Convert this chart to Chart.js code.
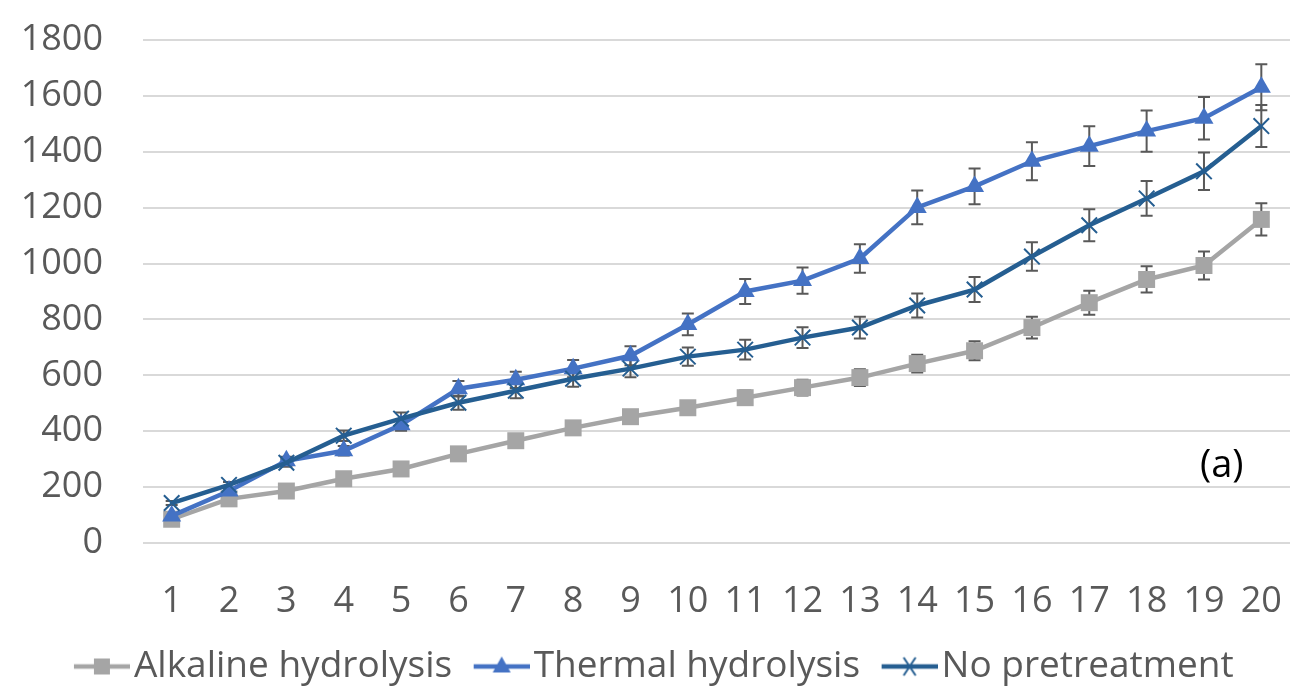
<!DOCTYPE html>
<html>
<head>
<meta charset="utf-8">
<script src="https://cdn.jsdelivr.net/npm/chart.js@4.4.1/dist/chart.umd.min.js"></script>
<style>
  html, body { margin: 0; padding: 0; background: #fff; }
  #wrap { width: 1291px; height: 691px; }
</style>
</head>
<body>
<div id="wrap"><canvas id="chart" width="1291" height="691"></canvas></div>
<script>
// values
const days = ["1","2","3","4","5","6","7","8","9","10","11","12","13","14","15","16","17","18","19","20"];

const alkaline = [85, 158, 186, 230, 265, 319, 366, 412, 452, 484, 520, 556, 592, 642, 688, 771, 860, 943, 993, 1158];
const alkalineErr = [4, 8, 9, 11, 13, 16, 18, 21, 23, 24, 26, 28, 30, 32, 34, 39, 43, 47, 50, 58];

const thermal = [97, 186, 294, 330, 423, 552, 584, 624, 670, 782, 900, 939, 1018, 1201, 1276, 1366, 1420, 1474, 1520, 1631];
const thermalErr = [5, 9, 15, 17, 21, 28, 29, 31, 34, 39, 45, 47, 51, 60, 64, 68, 71, 74, 76, 82];

const noPre = [143, 208, 287, 384, 445, 502, 545, 588, 624, 667, 692, 735, 771, 850, 907, 1025, 1137, 1233, 1330, 1492];
const noPreErr = [7, 10, 14, 19, 22, 25, 27, 29, 31, 33, 35, 37, 39, 43, 45, 51, 57, 62, 67, 75];

const yTicks = [0, 200, 400, 600, 800, 1000, 1200, 1400, 1600, 1800];

const errors = [alkalineErr, thermalErr, noPreErr];

const FONT = "'Open Sans', 'Noto Sans', sans-serif";
const GREY = "#A5A5A5";
const BLUE = "#4472C4";
const DARK = "#255E91";

// legend icon: line with marker, sitting at the right end of a wider canvas
function legendIcon(color, style) {
  const c = document.createElement("canvas");
  c.width = 88; c.height = 24;
  const g = c.getContext("2d");
  const x0 = 32, cx = x0 + 28;
  g.strokeStyle = color; g.fillStyle = color;
  g.lineWidth = 4.5;
  g.beginPath(); g.moveTo(x0, 12); g.lineTo(88, 12); g.stroke();
  if (style === "rect") {
    g.fillRect(cx - 8, 12 - 8, 16, 16);
  } else if (style === "triangle") {
    g.beginPath(); g.moveTo(cx, 2); g.lineTo(cx + 9, 18); g.lineTo(cx - 9, 18); g.closePath(); g.fill();
  } else {
    g.lineWidth = 2;
    g.beginPath();
    g.moveTo(cx - 6, 3); g.lineTo(cx + 6, 21);
    g.moveTo(cx + 6, 3); g.lineTo(cx - 6, 21);
    g.stroke();
  }
  return c;
}

const errorBars = {
  id: "errorBars",
  beforeDatasetsDraw(chart) {
    const ctx = chart.ctx;
    const y = chart.scales.y;
    ctx.save();
    ctx.strokeStyle = "#595959";
    ctx.lineWidth = 2;
    chart.data.datasets.forEach((ds, di) => {
      const meta = chart.getDatasetMeta(di);
      ds.data.forEach((v, i) => {
        const e = errors[di][i];
        const px = meta.data[i].x;
        const top = y.getPixelForValue(v + e);
        const bot = y.getPixelForValue(v - e);
        ctx.beginPath();
        ctx.moveTo(px, top); ctx.lineTo(px, bot);
        ctx.moveTo(px - 6, top); ctx.lineTo(px + 6, top);
        ctx.moveTo(px - 6, bot); ctx.lineTo(px + 6, bot);
        ctx.stroke();
      });
    });
    ctx.restore();
  },
  afterDraw(chart) {
    const ctx = chart.ctx;
    const y = chart.scales.y;
    ctx.save();
    ctx.fillStyle = "#000";
    ctx.font = "38px " + FONT;
    ctx.textAlign = "left";
    ctx.textBaseline = "middle";
    ctx.fillText("(a)", chart.chartArea.right - 90, y.getPixelForValue(275));
    ctx.restore();
  }
};

new Chart(document.getElementById("chart"), {
  type: "line",
  data: {
    labels: days,
    datasets: [
      {
        label: "Alkaline hydrolysis",
        data: alkaline,
        borderColor: GREY, backgroundColor: GREY,
        borderWidth: 4.5,
        pointStyle: "rect", pointRadius: 12, pointBorderWidth: 0,
        icon: legendIcon(GREY, "rect"),
        order: 2
      },
      {
        label: "Thermal hydrolysis",
        data: thermal,
        borderColor: BLUE, backgroundColor: BLUE,
        borderWidth: 4.5,
        pointStyle: "triangle", pointRadius: 11, pointBorderWidth: 0,
        icon: legendIcon(BLUE, "triangle"),
        order: 1
      },
      {
        label: "No pretreatment",
        data: noPre,
        borderColor: DARK, backgroundColor: DARK,
        borderWidth: 4.5,
        pointStyle: "crossRot", pointRadius: 11, pointBorderWidth: 2,
        icon: legendIcon(DARK, "cross"),
        order: 0
      }
    ]
  },
  options: {
    responsive: false,
    animation: false,
    layout: { autoPadding: false, padding: { top: 40, right: 1, left: 0, bottom: -4 } },
    plugins: {
      tooltip: { enabled: false },
      legend: {
        position: "bottom",
        labels: {
          color: "#595959",
          font: { family: FONT, size: 37 },
          usePointStyle: true,
          pointStyleWidth: 59,
          padding: 4,
          generateLabels: (chart) => chart.data.datasets.map((ds, i) => ({
            text: ds.label,
            pointStyle: ds.icon,
            fillStyle: ds.borderColor,
            strokeStyle: ds.borderColor,
            lineWidth: 0,
            datasetIndex: i,
            fontColor: "#595959"
          }))
        }
      }
    },
    scales: {
      x: {
        offset: true,
        grid: { display: false, drawTicks: false },
        border: { display: false },
        afterFit: (s) => { s.height = 101; s.paddingLeft = 0; s.paddingRight = 0; },
        ticks: {
          color: "#595959",
          font: { family: FONT, size: 36 },
          padding: 37,
          autoSkip: false,
          maxRotation: 0
        }
      },
      y: {
        min: 0, max: 1800,
        afterBuildTicks: (s) => { s.ticks = yTicks.map(v => ({ value: v })); },
        afterFit: (s) => { s.width = 143; s.paddingTop = 0; s.paddingBottom = 0; },
        grid: { color: "#D9D9D9", lineWidth: 2, drawTicks: false },
        border: { display: false },
        ticks: {
          color: "#595959",
          font: { family: FONT, size: 36 },
          padding: 40,
          callback: (v) => String(v)
        }
      }
    }
  },
  plugins: [errorBars]
});
</script>
</body>
</html>
